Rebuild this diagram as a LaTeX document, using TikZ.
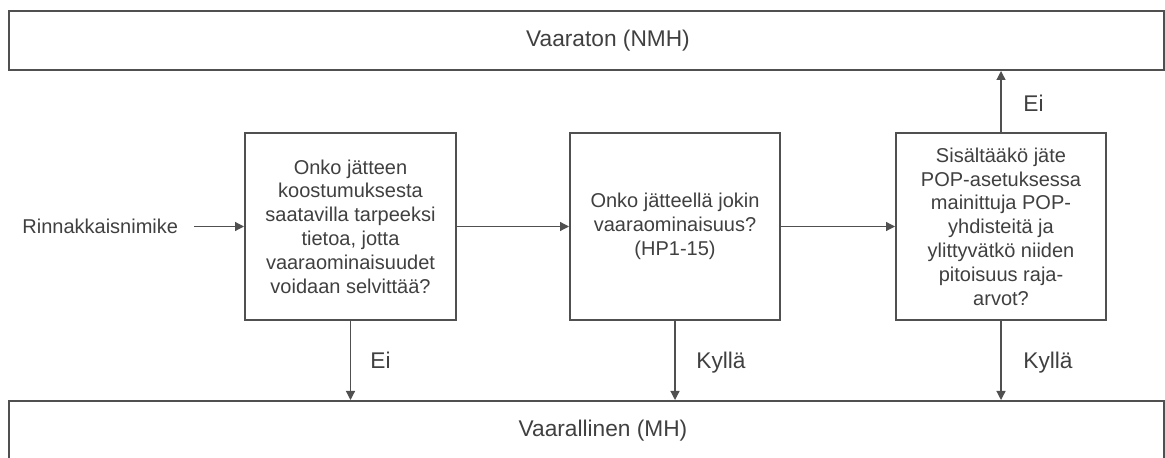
\documentclass[tikz,border=0pt]{standalone}
\usepackage{fontspec}
\setmainfont{Liberation Sans}
\usetikzlibrary{arrows.meta}
\definecolor{txt}{HTML}{404040}
\definecolor{ln}{HTML}{505050}
\tikzset{
  box/.style={draw=ln, line width=1pt, rectangle, inner sep=0pt, align=center, text=txt,
    font=\fontsize{10}{11.9}\selectfont},
  lbl/.style={inner sep=0pt, anchor=west, text=txt, font=\fontsize{11.35}{13}\selectfont},
  big/.style={inner sep=0pt, text=txt, font=\fontsize{11.35}{13}\selectfont},
  arr/.style={draw=ln, line width=0.6pt, -{Triangle[length=4.5pt,width=4.5pt]}},
  conn/.style={draw=ln, line width=0.6pt}
}
\begin{document}
\begin{tikzpicture}[x=0.5pt,y=-0.5pt]
\useasboundingbox (0,0) rectangle (1165,458);
\clip (0,0) rectangle (1165,458);
\fill[white] (0,0) rectangle (1165,458);
% big boxes
\node[box, minimum width=577.5pt, minimum height=29.25pt] (top) at (586.5,40.75) {};
\node[big] (toptxt) at (608,41) {Vaaraton (NMH)};
\node[box, minimum width=577.5pt, minimum height=31pt] (bot) at (586.5,432) {};
\node[big] (bottxt) at (603,431) {Vaarallinen (MH)};
% decision boxes
\node[box, minimum width=105.5pt, minimum height=93.5pt] (lbox) at (350.5,226.5)
  {Onko jätteen\\koostumuksesta\\saatavilla tarpeeksi\\tietoa, jotta\\vaaraominaisuudet\\voidaan selvittää?};
\node[box, minimum width=105pt, minimum height=93.5pt] (mbox) at (675,226.5)
  {Onko jätteellä jokin\\vaaraominaisuus?\\(HP1-15)};
\node[box, minimum width=105pt, minimum height=93.5pt] (rbox) at (1001,226.5)
  {Sisältääkö jäte\\POP-asetuksessa\\mainittuja POP-\\yhdisteitä ja\\ylittyvätkö niiden\\pitoisuus raja-\\arvot?};
% start text
\node[inner sep=0pt, anchor=west, text=txt, font=\fontsize{10}{11.9}\selectfont] (rin) at (22,226.5) {Rinnakkaisnimike};
% connectors
\draw[arr] ([xshift=8pt]rin.east) -- (lbox.west);
\draw[arr] (lbox.east) -- (mbox.west);
\draw[arr] (mbox.east) -- (rbox.west);
\draw[arr] (rbox.north) -- (rbox.north |- top.south);
\draw[arr] (lbox.south) -- (lbox.south |- bot.north);
\draw[arr] (mbox.south) -- (mbox.south |- bot.north);
\draw[arr] (rbox.south) -- (rbox.south |- bot.north);
% labels
\node[lbl] (ei1) at (1023,103) {Ei};
\node[lbl] (ei2) at (370,360) {Ei};
\node[lbl] (ky1) at (696,363) {Kyllä};
\node[lbl] (ky2) at (1023,363) {Kyllä};
\end{tikzpicture}
\end{document}
